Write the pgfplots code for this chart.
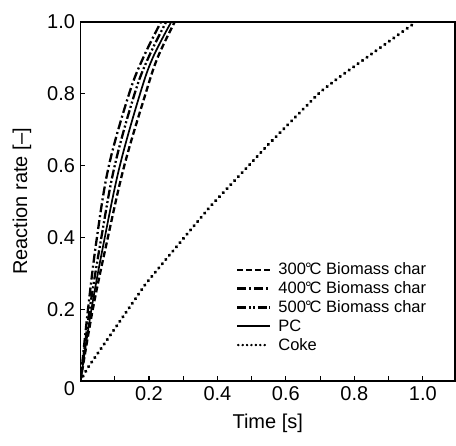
\documentclass[border=0pt]{standalone}
\usepackage{fontspec}
\setmainfont{Liberation Sans}
\usepackage{pgfplots}
\pgfplotsset{compat=1.18}
\usetikzlibrary{decorations.markings}

\newcommand{\dc}{\kern-0.05em°\kern-0.12em C}

\tikzset{
  bolddots/.style={draw=none, postaction={decorate}, decoration={markings,
    mark=between positions 0 and 1 step 5.5pt with {\fill[black] (0,0) circle (1.8pt);}}}}

\begin{document}
\begin{tikzpicture}
\begin{axis}[
  name=ax, at={(0,0)}, anchor=south west,
  scale only axis, width=374.5pt, height=359pt,
  xmin=0, xmax=1.094, ymin=0, ymax=1.0,
  axis line style={line width=1.6pt},
  tick style={line width=1.2pt, black},
  tick align=inside, major tick length=5pt, minor tick length=5pt,
  xtick={0.2,0.4,0.6,0.8,1.0},
  xticklabels={0.2,0.4,0.6,0.8,1.0},
  minor xtick={0.1,0.3,0.5,0.7,0.9},
  ytick={0,0.2,0.4,0.6,0.8,1.0},
  yticklabels={{\raisebox{-15pt}[0pt][0pt]{0}},0.2,0.4,0.6,0.8,1.0},
  xtick pos=bottom, ytick pos=left,
  tick label style={font=\fontsize{20}{22}\selectfont},
  xticklabel style={yshift=-2pt},
  yticklabel style={xshift=-2pt},
  xlabel={Time [s]}, ylabel={Reaction rate [--]},
  label style={font=\fontsize{20}{22}\selectfont},
  xlabel style={at={(axis description cs:0.5,-0.117)}, anchor=center},
  ylabel style={at={(axis description cs:-0.156,0.5)}, anchor=center},
  legend style={draw=none, fill=none, inner sep=0pt,
    font=\fontsize{16.5}{18}\selectfont,
    at={(axis description cs:0.415,0.335)}, anchor=north west,
    row sep=1.5pt},
  legend cell align=left,
  legend image code/.code={\path (38pt,0pt); \draw[#1] (0pt,0pt) -- (33pt,0pt);},
]
\addplot[black, line width=2.3pt, dash pattern=on 6pt off 3pt, smooth, tension=0.6] coordinates {
  (0,0) (0.036,0.2) (0.08,0.4) (0.128,0.6) (0.19,0.8) (0.225,0.9) (0.275,1.0)};
\addlegendentry{300\dc\ Biomass char}
\addplot[black, line width=2.3pt, dash pattern=on 9pt off 3pt on 2pt off 3pt, smooth, tension=0.6] coordinates {
  (0,0) (0.022,0.2) (0.048,0.4) (0.083,0.6) (0.142,0.8) (0.183,0.9) (0.235,1.0)};
\addlegendentry{400\dc\ Biomass char}
\addplot[black, line width=2.3pt, dash pattern=on 9pt off 2.5pt on 2pt off 2.5pt on 2pt off 2.5pt, smooth, tension=0.6] coordinates {
  (0,0) (0.027,0.2) (0.061,0.4) (0.1,0.6) (0.158,0.8) (0.198,0.9) (0.25,1.0)};
\addlegendentry{500\dc\ Biomass char}
\addplot[black, line width=1.7pt, smooth, tension=0.6] coordinates {
  (0,0) (0.032,0.2) (0.071,0.4) (0.115,0.6) (0.174,0.8) (0.211,0.9) (0.265,1.0)};
\addlegendentry{PC}
\addplot[bolddots, legend image code/.code={
    \path[draw=none, decoration={markings, reset marks,
      mark=between positions 0 and 27pt step 4.4pt with {\fill[black] (0,0) circle (1.2pt);}},
      postaction={decorate}] (1pt,0pt) -- (38pt,0pt);}] coordinates {
  (0,0) (0.02,0.035) (0.19,0.27) (0.255,0.345) (0.378,0.485) (0.55,0.66) (0.7,0.805) (0.757,0.847) (0.98,1.0)};
\addlegendentry{Coke}
\end{axis}
\path (-80.5pt,-65pt) rectangle (375.5pt,381pt);
\end{tikzpicture}
\end{document}
